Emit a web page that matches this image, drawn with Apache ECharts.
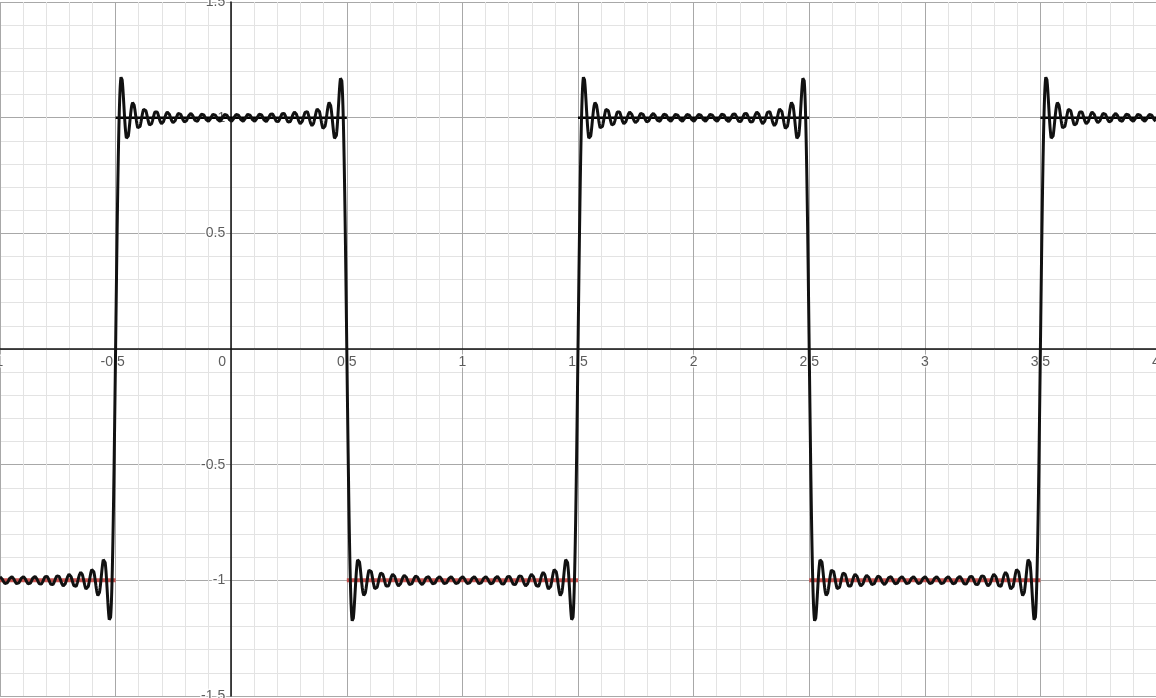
<!DOCTYPE html>
<html>
<head>
<meta charset="utf-8">
<script src="https://cdn.jsdelivr.net/npm/echarts@6/dist/echarts.min.js"></script>
<style>
html,body{margin:0;padding:0;background:#fff;}
#chart{width:1156px;height:698px;}
</style>
</head>
<body>
<div id="chart"></div>
<script>
// Plotted function: Fourier partial sum of a square wave (period 2), odd harmonics read from ripple count
const harmonics = [1,3,5,7,9,11,13,15,17,19,21,23,25,27,29,31,33,35,37,39];
// Square-wave target segments [xStart, xEnd]
const upperSegments = [[-0.5,0.5],[1.5,2.5],[3.5,4]];
const lowerSegments = [[-1,-0.5],[0.5,1.5],[2.5,3.5]];
const upperLevel = 1;
const lowerLevel = -1;
// Axis ranges and tick labels
const xRange = [-1, 4];
const yRange = [-1.5, 1.5];
const majorStep = 0.5;
const minorPerMajor = 5;
const xTickLabels = [-1, -0.5, 0, 0.5, 1, 1.5, 2, 2.5, 3, 3.5, 4];
const yTickLabels = [-1.5, -1, -0.5, 0.5, 1, 1.5];

function fourier(x){
  let s = 0;
  harmonics.forEach((n, k) => {
    s += (k % 2 === 0 ? 1 : -1) * Math.cos(n * Math.PI * x) / n;
  });
  return 4 / Math.PI * s;
}
const curve = [];
const N = 6000;
for (let i = 0; i <= N; i++) {
  const x = xRange[0] + (xRange[1] - xRange[0]) * i / N;
  curve.push([x, fourier(x)]);
}

const labelStyle = {
  color: '#333',
  fontFamily: 'Liberation Sans, Arial, sans-serif',
  fontSize: 14,
  textBorderColor: '#fff',
  textBorderWidth: 3
};

const series = [];
// tick labels placed via the value scales
series.push({
  type: 'scatter', silent: true, symbolSize: 0, z: 2,
  data: xTickLabels.map(v => ({
    value: [v, 0],
    label: v === 0 ? {offset: [-9, 0]} : (v < 0 ? {offset: [-3, 0]} : {})
  })),
  label: Object.assign({show: true, position: 'bottom', distance: 6,
    formatter: p => String(p.value[0])}, labelStyle)
});
series.push({
  type: 'scatter', silent: true, symbolSize: 0, z: 2,
  data: yTickLabels.map(v => [0, v]),
  label: Object.assign({show: true, position: 'left', distance: 6,
    formatter: p => String(p.value[1])}, labelStyle)
});
upperSegments.forEach(s => series.push({
  type: 'line', silent: true, showSymbol: false,
  data: [[s[0], upperLevel], [s[1], upperLevel]],
  lineStyle: {color: '#000', width: 2.5}, z: 3
}));
lowerSegments.forEach(s => series.push({
  type: 'line', silent: true, showSymbol: false,
  data: [[s[0], lowerLevel], [s[1], lowerLevel]],
  lineStyle: {color: 'rgba(199,68,64,0.9)', width: 4}, z: 3
}));
series.push({
  type: 'line', silent: true, showSymbol: false,
  data: curve, lineStyle: {color: '#111', width: 3}, z: 4
});

const chart = echarts.init(document.getElementById('chart'), null, {renderer: 'canvas'});
chart.setOption({
  animation: false,
  backgroundColor: '#fff',
  grid: {left: 0, right: 0, top: 2, bottom: 2, containLabel: false, outerBoundsMode: 'none'},
  xAxis: {
    type: 'value', position: 'bottom', min: xRange[0], max: xRange[1], interval: majorStep,
    axisLine: {show: true, onZero: true, lineStyle: {color: '#111', width: 1.5}},
    axisTick: {show: false},
    minorTick: {show: false, splitNumber: minorPerMajor},
    axisLabel: {show: false},
    splitLine: {show: true, lineStyle: {color: '#a8a8a8', width: 1}},
    minorSplitLine: {show: true, lineStyle: {color: '#e3e3e3', width: 1}}
  },
  yAxis: {
    type: 'value', position: 'left', min: yRange[0], max: yRange[1], interval: majorStep,
    axisLine: {show: true, onZero: true, lineStyle: {color: '#111', width: 1.5}},
    axisTick: {show: false},
    minorTick: {show: false, splitNumber: minorPerMajor},
    axisLabel: {show: false},
    splitLine: {show: true, lineStyle: {color: '#a8a8a8', width: 1}},
    minorSplitLine: {show: true, lineStyle: {color: '#e3e3e3', width: 1}}
  },
  series: series
});
</script>
</body>
</html>
